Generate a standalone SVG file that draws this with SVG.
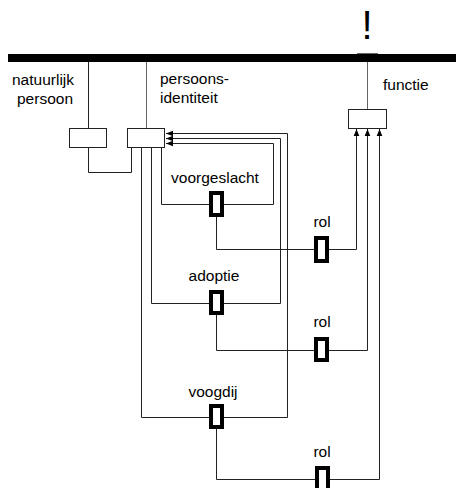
<svg xmlns="http://www.w3.org/2000/svg" width="457" height="488" viewBox="0 0 457 488">
<defs>
<marker id="arr" viewBox="0 0 10 10" refX="10" refY="5" markerWidth="7" markerHeight="7" markerUnits="userSpaceOnUse" orient="auto">
<path d="M0,1 L10,5 L0,9 z" fill="#000"/>
</marker>
<style>
text{font-family:"Liberation Sans",Arial,sans-serif;font-size:15.5px;fill:#000}
.c{text-anchor:middle}
.ln{fill:none;stroke:#222;stroke-width:1}
.gr{fill:none;stroke:#666;stroke-width:1}
.box{fill:#fff;stroke:#222;stroke-width:1}
.rol{fill:#fff;stroke:#000;stroke-width:4}
</style>
</defs>
<rect x="8" y="54" width="448" height="8" fill="#000"/>
<line x1="357" y1="53.5" x2="378" y2="53.5" stroke="#666" stroke-width="1"/>
<text x="367" y="39" class="c" style="font-size:40px">!</text>

<g id="connectors">
<line class="ln" x1="88.5" y1="62" x2="88.5" y2="128"/>
<line class="gr" x1="146.5" y1="62" x2="146.5" y2="128"/>
<line class="gr" x1="367.5" y1="62" x2="367.5" y2="109"/>
<path class="ln" d="M88.5,147 V172.5 H131.5 V147"/>
<path class="ln" d="M161.5,147 V204.5 H273.5 V143.5 H166" marker-end="url(#arr)"/>
<path class="ln" d="M151.5,147 V303.5 H280.5 V138.5 H166" marker-end="url(#arr)"/>
<path class="ln" d="M141.5,147 V417.5 H287.5 V133.5 H166" marker-end="url(#arr)"/>
<path class="ln" d="M216.5,217 V249.5 H356.5 V129" marker-end="url(#arr)"/>
<path class="ln" d="M216.5,315 V350.5 H367.5 V129" marker-end="url(#arr)"/>
<path class="ln" d="M216.5,429 V479.5 H379.5 V129" marker-end="url(#arr)"/>
</g>

<g id="natuurlijk-persoon">
<rect class="box" x="69.5" y="128.5" width="37" height="19"/>
<text x="43" y="85" class="c">natuurlijk</text>
<text x="45" y="104" class="c">persoon</text>
</g>
<g id="persoonsidentiteit">
<rect class="box" x="127.5" y="128.5" width="37" height="19"/>
<text x="160" y="84">persoons-</text>
<text x="160" y="103">identiteit</text>
</g>
<g id="functie">
<rect class="box" x="348.5" y="109.5" width="38" height="19"/>
<text x="383" y="90">functie</text>
</g>
<g id="voorgeslacht">
<rect class="rol" x="211" y="193" width="11" height="22"/>
<text x="215" y="183" class="c">voorgeslacht</text>
</g>
<g id="adoptie">
<rect class="rol" x="211" y="292" width="11" height="21"/>
<text x="214" y="281" class="c">adoptie</text>
</g>
<g id="voogdij">
<rect class="rol" x="211" y="406" width="11" height="21"/>
<text x="213" y="397" class="c">voogdij</text>
</g>
<g id="rol1">
<rect class="rol" x="316" y="238" width="11" height="23"/>
<text x="322" y="227" class="c">rol</text>
</g>
<g id="rol2">
<rect class="rol" x="316" y="339" width="11" height="21"/>
<text x="322" y="327" class="c">rol</text>
</g>
<g id="rol3">
<rect class="rol" x="317" y="468" width="11" height="24"/>
<text x="322" y="457" class="c">rol</text>
</g>
</svg>
